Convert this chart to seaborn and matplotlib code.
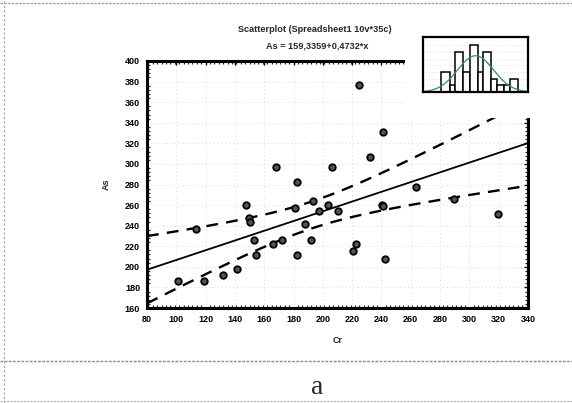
import numpy as np
import pandas as pd
import matplotlib
matplotlib.use("Agg")
import matplotlib.pyplot as plt
from matplotlib.ticker import MultipleLocator
from matplotlib.lines import Line2D
import seaborn as sns

# ---------------- data ----------------
cr = [100.9, 113.7, 118.7, 131.9, 141.1, 147.8, 149.6, 150.6, 153.1, 154.6,
      166.3, 167.8, 171.8, 181.2, 182.5, 182.5, 188.0, 192.0, 193.0, 197.5,
      203.7, 206.4, 210.4, 220.9, 222.4, 224.9, 232.1, 240.1, 240.8, 241.1,
      242.1, 263.8, 289.7, 319.2]
as_ = [186.5, 237.1, 186.5, 192.3, 198.1, 260.0, 247.7, 243.2, 226.5, 211.3,
       221.9, 297.4, 226.5, 256.8, 282.6, 211.3, 241.3, 226.5, 263.9, 254.2,
       260.0, 297.4, 254.2, 215.5, 222.6, 376.5, 307.1, 260.0, 259.0, 331.3,
       207.7, 277.4, 266.1, 251.0]
INTERCEPT = 159.3359
SLOPE = 0.4732
T_CRIT = 2.037  # t(0.975, n-2)

x_ticks = [80, 100, 120, 140, 160, 180, 200, 220, 240, 260, 280, 300, 320, 340]
y_ticks = [160, 180, 200, 220, 240, 260, 280, 300, 320, 340, 360, 380, 400]

# inset histogram
hist_edges = [2.12, 3.2, 3.8, 4.8, 5.6, 6.6, 7.2, 8.2, 8.92, 9.72, 10.4, 11.4]
hist_counts = [3, 1, 6, 3, 7, 3, 6, 2, 1, 1, 2]

title_text = "Scatterplot (Spreadsheet1 10v*35c)"
eq_text = "As = 159,3359+0,4732*x"

# ---------------- figure ----------------
sns.set_theme(style="white")
plt.rcParams['font.family'] = ['Liberation Sans', 'DejaVu Sans']

W, H = 572, 403
fig = plt.figure(figsize=(W / 100, H / 100), dpi=100)
fig.patch.set_facecolor("white")

def fx(px):
    return px / W

def fy(py):
    return 1 - py / H

L, R, T, B = 147, 528, 61, 308
ax = fig.add_axes([fx(L), fy(B), fx(R) - fx(L), fy(T) - fy(B)])
ax.set_facecolor("white")

df = pd.DataFrame({"Cr": cr, "As": as_})

# regression line and 95% confidence band
arr_x = np.asarray(cr)
arr_y = np.asarray(as_)
n = len(arr_x)
xbar = arr_x.mean()
sxx = ((arr_x - xbar) ** 2).sum()
resid = arr_y - (INTERCEPT + SLOPE * arr_x)
s = np.sqrt((resid ** 2).sum() / (n - 2))
xs = np.linspace(x_ticks[0], x_ticks[-1], 200)
yfit = INTERCEPT + SLOPE * xs
hw = T_CRIT * s * np.sqrt(1 / n + (xs - xbar) ** 2 / sxx)

ax.plot(xs, yfit, color="black", lw=1.3, zorder=3)
ax.plot(xs, yfit + hw, color="black", lw=1.7, ls=(0, (5, 3.5)), zorder=3)
ax.plot(xs, yfit - hw, color="black", lw=1.7, ls=(0, (5, 3.5)), zorder=3)

sns.scatterplot(data=df, x="Cr", y="As", ax=ax, s=22, color="#555555",
                edgecolor="black", linewidth=1.3, zorder=4, legend=False)

ax.set_xlim(x_ticks[0], x_ticks[-1])
ax.set_ylim(y_ticks[0], y_ticks[-1])
ax.set_xticks(x_ticks)
ax.set_yticks(y_ticks)
ax.xaxis.set_minor_locator(MultipleLocator(3))
ax.yaxis.set_minor_locator(MultipleLocator(4))
ax.tick_params(which="major", direction="in", length=3, width=1, top=True, right=True,
               labelsize=6.5, pad=5, colors="black")
ax.tick_params(which="minor", direction="in", length=2, width=0.9, top=True, right=True,
               bottom=True, left=True)
for lab in ax.get_xticklabels() + ax.get_yticklabels():
    lab.set_fontweight("bold")
for sp in ax.spines.values():
    sp.set_visible(True)
    sp.set_linewidth(2.2)
    sp.set_color("black")
ax.grid(True, which="major", color="#d6d6d6", lw=0.7, ls=(0, (1, 3)))
ax.set_xlabel("Cr", fontsize=6.5, fontweight="bold", labelpad=9)
ax.set_ylabel("As", fontsize=6.5, fontweight="bold", labelpad=10)

# titles
fig.text(fx(315), fy(30), title_text, ha="center", va="center", fontsize=6.6, fontweight="bold")
fig.text(fx(317), fy(46), eq_text, ha="center", va="center", fontsize=6.6, fontweight="bold")

# white patch for inset
patch = fig.add_axes([fx(405), fy(118), fx(560) - fx(405), fy(14) - fy(118)])
patch.set_facecolor("white")
patch.set_xticks([]); patch.set_yticks([])
for sp in patch.spines.values():
    sp.set_visible(False)
patch.set_zorder(5)

# inset histogram
hx = fig.add_axes([fx(423), fy(92), fx(528) - fx(423), fy(37) - fy(92)])
hx.set_zorder(6)
hx.set_facecolor("white")
widths = np.diff(hist_edges)
lefts = np.asarray(hist_edges[:-1])
hx.bar(lefts, hist_counts, width=widths, align="edge", facecolor="white",
       edgecolor="black", linewidth=1.1)
centers = lefts + widths / 2
cnt = np.asarray(hist_counts)
mu = (centers * cnt).sum() / cnt.sum()
sd = np.sqrt((((centers - mu) ** 2) * cnt).sum() / cnt.sum())
gx = np.linspace(0, 12.6, 200)
gy = cnt.sum() * widths.mean() * np.exp(-0.5 * ((gx - mu) / sd) ** 2) / (sd * np.sqrt(2 * np.pi))
hx.plot(gx, gy, color="#3a8a6a", lw=0.9)
hx.set_xlim(0, 12.6)
hx.set_ylim(0, 8.25)
hx.set_xticks(np.arange(0.5, 12.6, 1.6))
hx.set_yticks([1, 2, 3, 4, 5, 6, 7])
hx.tick_params(direction="in", length=1.5, width=0.6, labelbottom=False, labelleft=False)
hx.grid(True, axis="y", color="#c4c4c4", lw=0.5, ls=(0, (1, 3)))
for sp in hx.spines.values():
    sp.set_linewidth(1.6)
    sp.set_color("black")

# page decorations (scan borders and separator)
fig.add_artist(Line2D([0, 1], [fy(361), fy(361)], transform=fig.transFigure,
                      color="#8a8a8a", lw=1.0, ls=(0, (2, 1))))
fig.add_artist(Line2D([0, 1], [fy(3), fy(3)], transform=fig.transFigure,
                      color="#9a9a9a", lw=0.9, ls=(0, (2, 1))))
fig.add_artist(Line2D([0, 1], [fy(401), fy(401)], transform=fig.transFigure,
                      color="#b0b0b0", lw=0.8, ls=(0, (2, 1))))
fig.add_artist(Line2D([fx(4), fx(4)], [0, 1], transform=fig.transFigure,
                      color="#a0a0a0", lw=0.8, ls=(0, (2, 2))))

fig.text(fx(317), fy(388), "a", ha="center", va="center", fontsize=20,
         family=["Liberation Serif", "DejaVu Serif"])

fig.savefig("out.png", dpi=100, facecolor="white")
